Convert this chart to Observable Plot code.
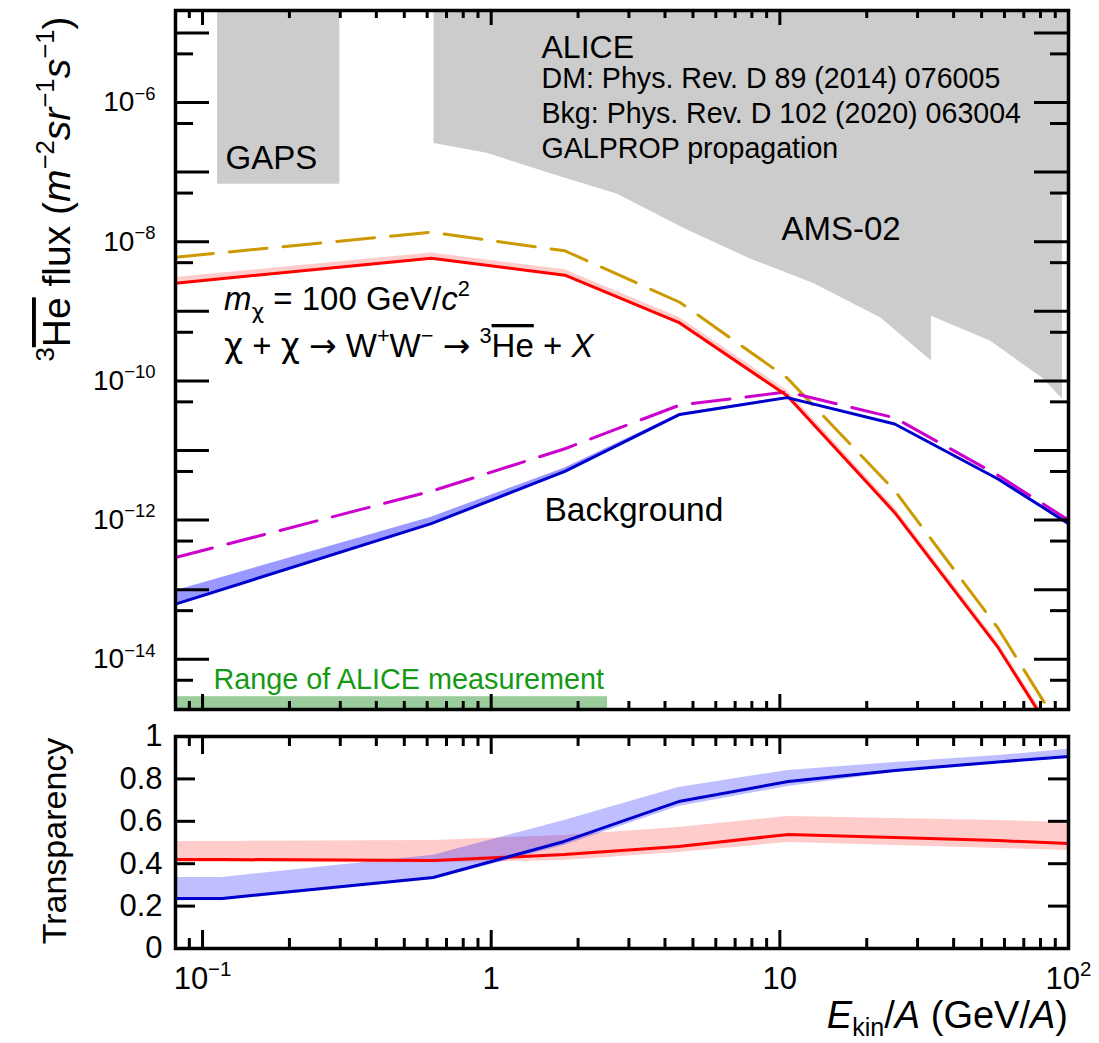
<!DOCTYPE html>
<html><head><meta charset="utf-8">
<script src="https://cdn.jsdelivr.net/npm/d3@7"></script>
<script src="https://cdn.jsdelivr.net/npm/@observablehq/plot@0.6"></script>
<style>
body{margin:0;background:#fff;}
#wrap{position:relative;width:1099px;height:1043px;overflow:hidden;}
#wrap .panel{position:absolute;left:0;}
svg{overflow:visible;}
</style></head><body><div id="wrap"><div class="panel" id="top" style="top:0"></div><div class="panel" id="bot" style="top:710px"></div></div>
<script>
// ---------------- data ----------------
const xDomain = [0.0806, 100];
const fluxDomain = [1.9e-15, 2.1e-5];
const transDomain = [0, 1];

// 3He-bar flux vs Ekin/A
const energyFlux   = [0.0806, 0.62, 1.8, 4.5, 10.6, 25, 57, 100];
const dmAbsorbed   = [2.54e-9, 5.8e-9, 3.3e-9, 6.8e-10, 6.1e-11, 1.28e-12, 1.48e-14, 3.7e-16];
const dmAbsorbedHi = [3.05e-9, 6.9e-9, 3.95e-9, 8.1e-10, 7.3e-11, 1.5e-12, 1.75e-14, 4.4e-16];
const dmNoAbs      = [6.0e-9, 1.37e-8, 7.4e-9, 1.35e-9, 1.1e-10, 2.65e-12, 2.8e-14, 6.6e-16];
const bkgAbsorbed  = [6.2e-14, 8.9e-13, 5.0e-12, 3.3e-11, 5.75e-11, 2.4e-11, 3.9e-12, 8.9e-13];
const bkgAbsorbedHi= [9.7e-14, 1.1e-12, 5.6e-12, 3.4e-11, 5.9e-11, 2.45e-11, 4.0e-12, 9.2e-13];
const bkgNoAbs     = [2.9e-13, 2.6e-12, 1.06e-11, 4.5e-11, 6.95e-11, 2.95e-11, 4.4e-12, 1.0e-12];

// experimental sensitivity regions
const gapsE = [0.1127, 0.299];
const gapsFlux = 6.7e-8;
const amsE    = [0.634, 0.968, 1.63, 2.74, 4.64, 7.8, 13.2, 22.4, 33.5, 33.5, 53.6, 81.2, 95.3];
const amsFlux = [2.58e-7, 1.86e-7, 9.3e-8, 4.8e-8, 1.56e-8, 5.8e-9, 2.46e-9, 8.0e-10, 1.94e-10, 8.5e-10, 3.74e-10, 1.1e-10, 5.5e-11];
const amsHighE = [95.3, 100];
const amsHighFlux = 4.8e-8;
const aliceRangeE = [0.0806, 2.53];
const aliceRangeFlux = 2.9e-15;

// transparency
const energyT   = [0.0806, 0.117, 0.63, 1.79, 4.46, 10.7, 25, 57, 100];
const bkgT      = [0.236, 0.236, 0.335, 0.505, 0.693, 0.788, 0.84, 0.88, 0.906];
const bkgTLo    = [0.225, 0.225, 0.325, 0.486, 0.67, 0.764, 0.83, 0.873, 0.896];
const bkgTHi    = [0.335, 0.335, 0.44, 0.604, 0.76, 0.84, 0.877, 0.91, 0.94];
const dmT       = [0.42, 0.42, 0.415, 0.443, 0.481, 0.538, 0.524, 0.509, 0.495];
const dmTLo     = [0.406, 0.406, 0.405, 0.415, 0.453, 0.50, 0.486, 0.472, 0.462];
const dmTHi     = [0.505, 0.505, 0.51, 0.533, 0.571, 0.623, 0.613, 0.604, 0.594];

// ticks
const xMajor = [0.1, 1, 10, 100];
const xMinor = [0.09, 0.2,0.3,0.4,0.5,0.6,0.7,0.8,0.9, 2,3,4,5,6,7,8,9, 20,30,40,50,60,70,80,90];
const fluxLong = [1e-14,1e-13,1e-12,1e-11,1e-10,1e-9,1e-8,1e-7,1e-6,1e-5];
const fluxShort = [5e-15,5e-14,5e-13,5e-12,5e-11,5e-10,5e-9,5e-8,5e-7,5e-6];
const fluxLabels = [1e-14,1e-12,1e-10,1e-8,1e-6];
const transTicks = [0.2,0.4,0.6,0.8];
const transLabels = [0,0.2,0.4,0.6,0.8,1];

// ---------------- helpers ----------------
const FONT = "'Liberation Sans', Arial, Helvetica, sans-serif";
const SYM = "'DejaVu Sans', sans-serif";
const W = 1099, ML = 175, MR = 31;
const PW = W - ML - MR;
const zip = (xs, ...cols) => xs.map((x, i) => ({x, ...Object.fromEntries(cols.map((c, j) => ["v" + j, c[i]]))}));

function frameTicks(plotH, xMajLen, xMinLen, yLong, yLongLen, yShort, yShortLen) {
  const o = {stroke: "black", strokeWidth: 3};
  const m = [
    Plot.tickX(xMajor, {x: d => d, insetTop: plotH - xMajLen, ...o}),
    Plot.tickX(xMajor, {x: d => d, insetBottom: plotH - xMajLen, ...o}),
    Plot.tickX(xMinor, {x: d => d, insetTop: plotH - xMinLen, ...o}),
    Plot.tickX(xMinor, {x: d => d, insetBottom: plotH - xMinLen, ...o}),
    Plot.tickY(yLong, {y: d => d, insetRight: PW - yLongLen, ...o}),
    Plot.tickY(yLong, {y: d => d, insetLeft: PW - yLongLen, ...o})
  ];
  if (yShort.length) m.push(
    Plot.tickY(yShort, {y: d => d, insetRight: PW - yShortLen, ...o}),
    Plot.tickY(yShort, {y: d => d, insetLeft: PW - yShortLen, ...o}));
  return m;
}

function supLabels(svg, size) {
  d3.select(svg).selectAll("text").each(function() {
    const el = d3.select(this);
    if (this.querySelector("tspan")) return;
    const s = el.text();
    if (s.includes("^")) {
      const [b, e] = s.split("^");
      el.text(null);
      el.append("tspan").text(b);
      el.append("tspan").attr("dy", -0.42 * size).attr("font-size", 0.66 * size).text(e);
    }
  });
}

function rich(svg, {x, y, size, anchor = "start", rotate = 0, fill = "black", subShift = 0.28}, parts) {
  const t = d3.select(svg).append("text")
    .attr("x", 0).attr("y", 0)
    .attr("transform", `translate(${x},${y}) rotate(${rotate})`)
    .attr("text-anchor", anchor).attr("font-size", size)
    .attr("font-family", FONT).attr("fill", fill);
  let shift = 0;
  for (const p of parts) {
    const [str, kind = ""] = typeof p === "string" ? [p] : p;
    const ts = t.append("tspan").text(str);
    let target = 0, fs = size;
    if (kind.includes("sup")) { target = -0.42 * size; fs = 0.66 * size; }
    if (kind.includes("sub")) { target = subShift * size; fs = 0.66 * size; }
    if (target !== shift) ts.attr("dy", target - shift);
    shift = target;
    ts.attr("font-size", fs);
    if (kind.includes("it")) ts.attr("font-style", "italic");
    if (kind.includes("over")) ts.style("text-decoration", "overline");
    if (kind.includes("sym")) ts.attr("font-family", SYM);
  }
  return t;
}

// ---------------- top panel ----------------
const topH = 730, topMT = 10, topMB = 21;
const topPH = topH - topMT - topMB;
const fluxRows = zip(energyFlux, dmAbsorbed, dmAbsorbedHi, dmNoAbs, bkgAbsorbed, bkgAbsorbedHi, bkgNoAbs);
const amsRows = zip(amsE, amsFlux);

const txt = (s, dx, dy, size, extra = {}) =>
  Plot.text([s], {frameAnchor: "top-left", dx, dy, text: d => d, textAnchor: "start",
    lineAnchor: "bottom", fontSize: size, fill: "black", ...extra});

const topPlot = Plot.plot({
  width: W, height: topH, marginLeft: ML, marginRight: MR, marginTop: topMT, marginBottom: topMB,
  style: {fontFamily: FONT, background: "transparent", color: "black"},
  x: {type: "log", domain: xDomain, axis: null},
  y: {type: "log", domain: fluxDomain},
  marks: [
    Plot.areaY(amsRows, {x: "x", y1: "v0", y2: () => fluxDomain[1], fill: "#cccccc", curve: "linear"}),
    Plot.rect([0], {x1: () => amsHighE[0], x2: () => amsHighE[1], y1: () => amsHighFlux, y2: () => fluxDomain[1], fill: "#cccccc"}),
    Plot.rect([0], {x1: () => gapsE[0], x2: () => gapsE[1], y1: () => gapsFlux, y2: () => fluxDomain[1], fill: "#cccccc"}),
    Plot.rect([0], {x1: () => aliceRangeE[0], x2: () => aliceRangeE[1], y1: () => fluxDomain[0], y2: () => aliceRangeFlux, fill: "#9bcc9b"}),
    Plot.areaY(fluxRows, {x: "x", y1: "v0", y2: "v1", fill: "#ff0000", fillOpacity: 0.2, clip: true}),
    Plot.areaY(fluxRows, {x: "x", y1: "v3", y2: "v4", fill: "#0000ff", fillOpacity: 0.4, clip: true}),
    Plot.line(fluxRows, {x: "x", y: "v2", stroke: "#cc9900", strokeWidth: 3, strokeDasharray: "38,16", clip: true}),
    Plot.line(fluxRows, {x: "x", y: "v5", stroke: "#cc00cc", strokeWidth: 3, strokeDasharray: "38,16", clip: true}),
    Plot.line(fluxRows, {x: "x", y: "v0", stroke: "#ff0000", strokeWidth: 3, clip: true}),
    Plot.line(fluxRows, {x: "x", y: "v3", stroke: "#0000cc", strokeWidth: 3, clip: true}),
    txt("ALICE", 366, 47, 32),
    txt("DM: Phys. Rev. D 89 (2014) 076005", 366, 77, 28.6),
    txt("Bkg: Phys. Rev. D 102 (2020) 063004", 366, 112, 28.6),
    txt("GALPROP propagation", 366, 147, 28.6),
    txt("GAPS", 50, 158, 33),
    txt("AMS-02", 606, 229, 33),
    txt("Background", 369, 510, 33.5),
    txt("Range of ALICE measurement", 38, 678, 28.8, {fill: "#149a14"}),
    ...frameTicks(topPH, 15, 8, fluxLong, 34, fluxShort, 18),
    Plot.frame({stroke: "black", strokeWidth: 3.5}),
    Plot.axisY(fluxLabels, {tickSize: 0, tickPadding: 20, fontSize: 28, label: null,
      tickFormat: d => "10^" + String(Math.round(Math.log10(d))).replace("-", "\u2212")})
  ]
});
document.getElementById("top").appendChild(topPlot);
supLabels(topPlot, 28);
rich(topPlot, {x: 224, y: 310, size: 33}, [["m", "it"], ["\u03c7", "sub sym"], " = 100 GeV/", ["c", "it"], ["2", "sup"]]);
rich(topPlot, {x: 224, y: 357, size: 33}, [["\u03c7", "sym"], " + ", ["\u03c7", "sym"], " ", ["\u2192", "sym"], " W", ["+", "sup"], "W", ["\u2212", "sup"], " ", ["\u2192", "sym"], " ", ["3", "sup"], ["He", "over"], " + ", ["X", "it"]]);
rich(topPlot, {x: 70, y: 189, size: 39, anchor: "middle", rotate: -90},
  [["3", "sup"], ["He", "over"], " flux (", ["m", "it"], ["\u22122", "sup"], ["sr", "it"], ["\u22121", "sup"], ["s", "it"], ["\u22121", "sup"], ")"]);

// ---------------- bottom panel ----------------
const botH = 333, botMT = 26, botMB = 95;
const botPH = botH - botMT - botMB;
const transRows = zip(energyT, bkgT, bkgTLo, bkgTHi, dmT, dmTLo, dmTHi);

const botPlot = Plot.plot({
  width: W, height: botH, marginLeft: ML, marginRight: MR, marginTop: botMT, marginBottom: botMB,
  style: {fontFamily: FONT, background: "transparent", color: "black"},
  x: {type: "log", domain: xDomain},
  y: {domain: transDomain},
  marks: [
    Plot.areaY(transRows, {x: "x", y1: "v4", y2: "v5", fill: "#ff0000", fillOpacity: 0.2}),
    Plot.areaY(transRows, {x: "x", y1: "v1", y2: "v2", fill: "#0000ff", fillOpacity: 0.25}),
    Plot.line(transRows, {x: "x", y: "v3", stroke: "#ff0000", strokeWidth: 3}),
    Plot.line(transRows, {x: "x", y: "v0", stroke: "#0000cc", strokeWidth: 3}),
    ...frameTicks(botPH, 18, 10, transTicks, 20, [], 0),
    Plot.frame({stroke: "black", strokeWidth: 3.5}),
    Plot.axisY(transLabels, {tickSize: 0, tickPadding: 13, fontSize: 31, label: null,
      tickFormat: d => (d === 0 || d === 1) ? String(d) : d.toFixed(1)}),
    Plot.axisX(xMajor, {tickSize: 0, tickPadding: 18, fontSize: 31, label: null,
      tickFormat: d => d === 0.1 ? "10^\u22121" : d === 100 ? "10^2" : String(d)})
  ]
});
document.getElementById("bot").appendChild(botPlot);
supLabels(botPlot, 31);
rich(botPlot, {x: 66, y: 131, size: 34, anchor: "middle", rotate: -90}, ["Transparency"]);
rich(botPlot, {x: 1068, y: 318, size: 38, anchor: "end", subShift: 0.2},
  [["E", "it"], ["kin", "sub"], "/", ["A", "it"], " (GeV/", ["A", "it"], ")"]);
</script></body></html>
